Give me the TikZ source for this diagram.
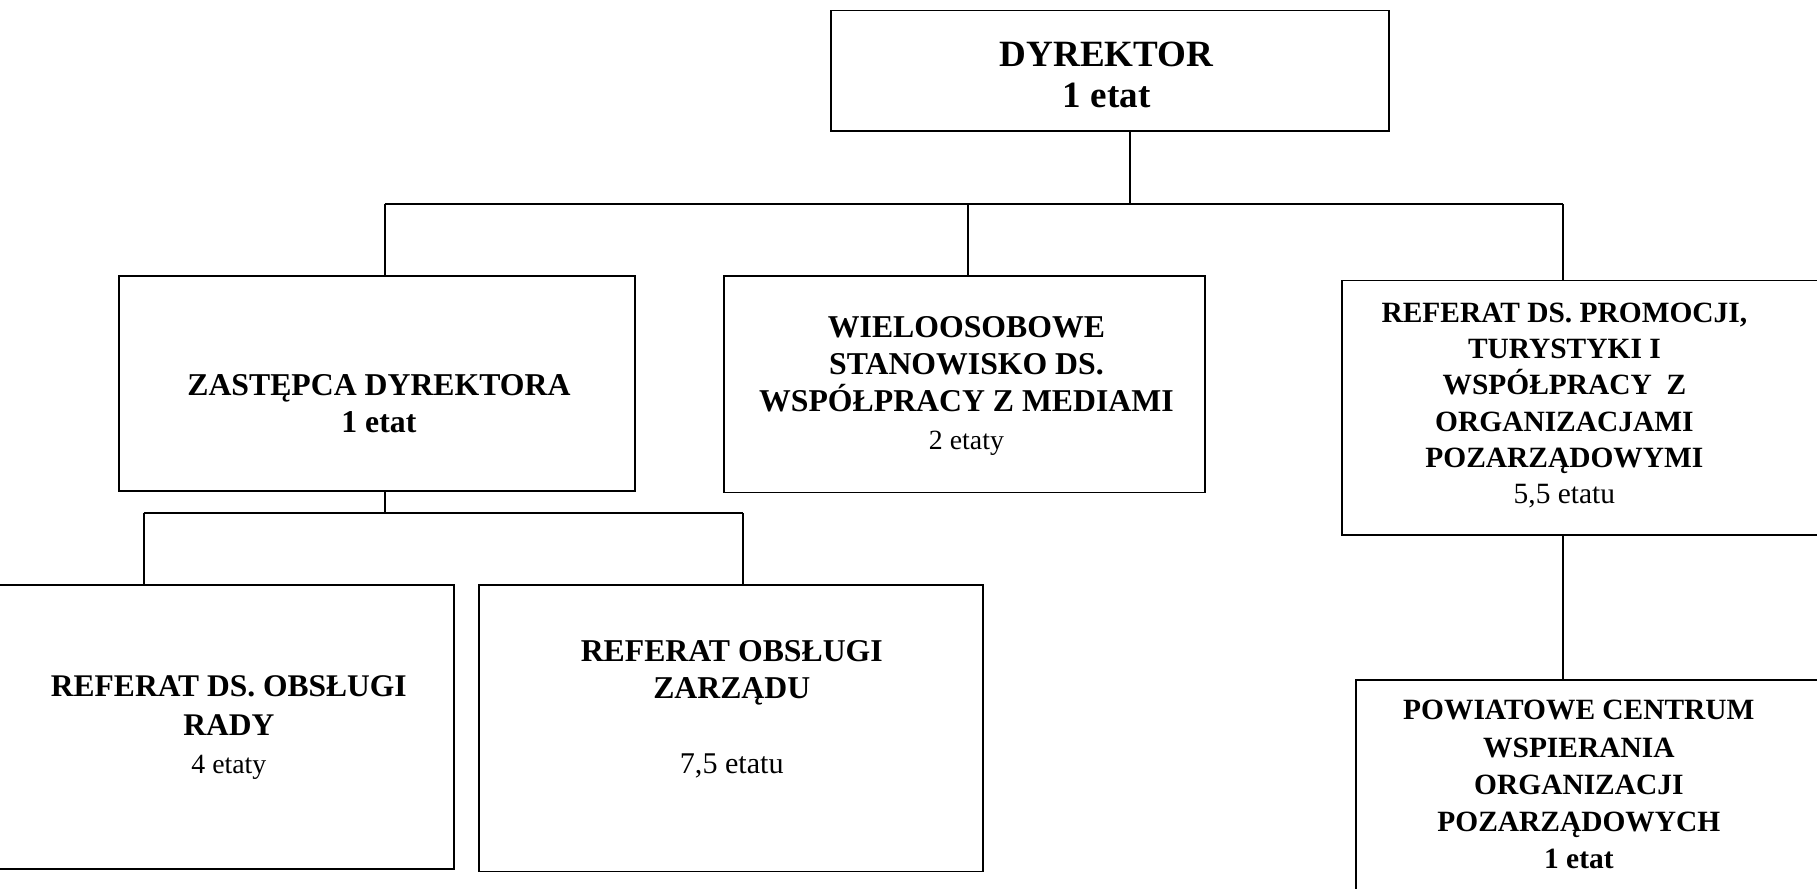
\documentclass[tikz,border=0pt]{standalone}
\usepackage{fontspec}
\setmainfont{Liberation Serif}
\begin{document}
\begin{tikzpicture}[x=0.5pt,y=-0.5pt,
  box/.style={draw,line width=0.8pt,inner sep=0pt,outer sep=0pt},
  conn/.style={line width=0.8pt},
  txt/.style={align=center,inner sep=0pt}]
\clip (0,0) rectangle (1568,767);
\useasboundingbox (0,0) rectangle (1568,767);

% boxes
\node[box,minimum width=241pt,minimum height=52pt] (dyr) at (958,61) {};
\node[box,minimum width=222.5pt,minimum height=93pt] (zast) at (325.5,331) {};
\node[box,minimum width=207.5pt,minimum height=93.5pt] (wiel) at (832.5,331.5) {};
\node[box,minimum width=211pt,minimum height=110pt] (prom) at (1369,352) {};
\node[box,minimum width=198.5pt,minimum height=122.5pt] (rady) at (193.5,627.5) {};
\node[box,minimum width=217.5pt,minimum height=123.5pt] (zarz) at (630.5,628.5) {};
\node[box,minimum width=202.5pt,minimum height=94pt] (pow) at (1372.5,681) {};

% texts
\node[txt,font=\fontsize{16}{17.5}\selectfont\bfseries] (dyrT) at (955,64.5) {DYREKTOR\\1 etat};
\node[txt,font=\fontsize{13.7}{16}\selectfont\bfseries] (zastT) at (327,348) {ZASTĘPCA DYREKTORA\\1 etat};
\node[txt,font=\fontsize{13.7}{16}\selectfont\bfseries] (wielT) at (834,333) {WIELOOSOBOWE\\STANOWISKO DS.\\WSPÓŁPRACY Z MEDIAMI\\{\mdseries\fontsize{12}{16}\selectfont 2 etaty}};
\node[txt,font=\fontsize{12.7}{15.6}\selectfont\bfseries] (promT) at (1350,350) {REFERAT DS. PROMOCJI,\\TURYSTYKI I\\WSPÓŁPRACY\ \ Z\\ORGANIZACJAMI\\POZARZĄDOWYMI\\{\mdseries 5,5 etatu}};
\node[txt,font=\fontsize{13.6}{16.5}\selectfont\bfseries] (radyT) at (197.5,628) {REFERAT DS. OBSŁUGI\\RADY\\{\mdseries\fontsize{12}{16.5}\selectfont 4 etaty}};
\node[txt,font=\fontsize{13.7}{16}\selectfont\bfseries] (zarzT) at (631.5,612) {REFERAT OBSŁUGI\\ZARZĄDU\\~\\{\mdseries\fontsize{13}{16}\selectfont 7,5 etatu}};
\node[txt,font=\fontsize{12.7}{16}\selectfont\bfseries] (powT) at (1362.5,677) {POWIATOWE CENTRUM\\WSPIERANIA\\ORGANIZACJI\\POZARZĄDOWYCH\\1 etat};

% connectors
\coordinate (j0) at (975,176);
\coordinate (jL) at (332,176);
\coordinate (jM) at (835,176);
\coordinate (jR) at (1349,176);
\draw[conn] (dyr.south -| j0) -- (j0);
\draw[conn] (jL) -- (jR);
\draw[conn] (jL) -- (jL |- zast.north);
\draw[conn] (jM) -- (jM |- wiel.north);
\draw[conn] (jR) -- (jR |- prom.north);

\coordinate (k0) at (332,443);
\coordinate (kL) at (124,443);
\coordinate (kR) at (641,443);
\draw[conn] (zast.south -| k0) -- (k0);
\draw[conn] (kL) -- (kR);
\draw[conn] (kL) -- (kL |- rady.north);
\draw[conn] (kR) -- (kR |- zarz.north);

\draw[conn] (prom.south -| jR) -- (jR |- pow.north);
\end{tikzpicture}
\end{document}
